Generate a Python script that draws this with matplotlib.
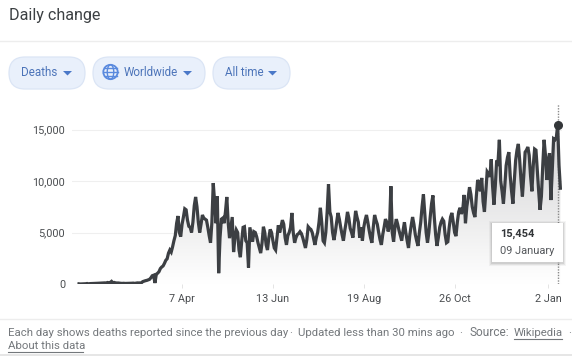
import numpy as np
import matplotlib
matplotlib.use("Agg")
import matplotlib.pyplot as plt
from matplotlib.colors import LinearSegmentedColormap
from matplotlib.patches import FancyBboxPatch, Circle, Ellipse, Polygon, Rectangle, PathPatch

plt.rcParams['font.family'] = ['Roboto', 'Liberation Sans', 'DejaVu Sans']

title = "Daily change"
chips = ["Deaths", "Worldwide", "All time"]
y_ticks = [0, 5000, 10000, 15000]
y_labels = ["0", "5,000", "10,000", "15,000"]
x_tick_days = [76, 143, 210, 277, 346]
x_labels = ["7 Apr", "13 Jun", "19 Aug", "26 Oct", "2 Jan"]
highlight_day = 353
tooltip_value = "15,454"
tooltip_date = "09 January"

deaths = [
    17, 1, 8, 16, 14, 26, 49, 2, 38, 42,
    46, 45, 64, 66, 73, 73, 86, 89, 97, 108,
    97, 146, 122, 143, 254, 121, 150, 108, 97, 99,
    78, 64, 60, 70, 55, 58, 60, 70, 58, 75,
    85, 60, 80, 105, 100, 110, 110, 230, 280, 320,
    350, 400, 450, 600, 800, 850, 100, 950, 1050, 1200,
    1500, 1650, 1750, 2000, 2300, 2450, 3000, 3300, 3100, 3600,
    4200, 4700, 5900, 6600, 5000, 4600, 5800, 6500, 7300, 7200,
    6200, 5600, 5500, 5000, 6000, 7600, 8450, 7500, 6000, 5000,
    5800, 6700, 6400, 6300, 6200, 5500, 4700, 4000, 6000, 9800,
    8000, 5900, 8500, 1050, 4500, 6300, 6400, 5900, 7000, 8450,
    6000, 4450, 5500, 6500, 3100, 4500, 5250, 5000, 3300, 2600,
    4200, 5500, 5560, 4200, 4000, 1600, 5500, 4800, 4100, 5080,
    5000, 4600, 4000, 3500, 3000, 4000, 5560, 5000, 3800, 3300,
    4500, 5300, 5000, 4200, 3500, 3300, 4500, 5700, 5000, 5600,
    6200, 5800, 4500, 3800, 4700, 5000, 5500, 6900, 5000, 4000,
    4500, 4800, 4900, 5080, 4900, 4500, 4000, 3500, 4300, 5560,
    5400, 5300, 5000, 4400, 3800, 4500, 5000, 6000, 7400, 6000,
    4200, 4000, 5000, 7000, 9700, 7000, 6500, 5000, 4270, 5000,
    6000, 6900, 6300, 5500, 4800, 4200, 5200, 6000, 7000, 6400,
    5400, 5000, 4500, 5800, 7100, 6500, 6000, 4500, 5500, 4200,
    5500, 6200, 6700, 6000, 5200, 4500, 4000, 5500, 6700, 6200,
    5800, 5000, 4300, 3800, 4800, 5500, 6300, 6000, 5100, 5600,
    9500, 5000, 4100, 5500, 6300, 5800, 5200, 4700, 4200, 5200,
    6000, 5000, 4200, 3500, 4800, 5700, 6500, 5800, 4800, 4200,
    3700, 5000, 6000, 7500, 8700, 6800, 5000, 4000, 5000, 6500,
    7800, 8600, 6500, 4800, 3700, 4500, 5500, 6000, 6300, 6100,
    4800, 4000, 4100, 5500, 6500, 6900, 6000, 5000, 4650, 6000,
    7000, 7400, 6800, 7200, 8650, 5900, 7500, 8400, 9400, 8700,
    7500, 6900, 6500, 8500, 10100, 9800, 9000, 10300, 8000, 7000,
    9000, 10900, 10700, 10400, 12100, 9500, 7700, 9500, 12000, 11800,
    14000, 10000, 9000, 7800, 9500, 11500, 12300, 12800, 10500, 9000,
    7800, 10000, 12000, 13000, 13600, 12000, 10000, 8500, 10500, 12800,
    13000, 13300, 12500, 10500, 9000, 11500, 13100, 13000, 11000, 9000,
    7200, 8500, 11500, 14000, 12500, 10100, 12000, 12700, 8150, 11000,
    14100, 14000, 14200, 15454, 11500, 9300,
]
days = np.arange(len(deaths))

W, H = 572, 356
fig = plt.figure(figsize=(W / 100, H / 100), dpi=100, facecolor="white")

# ---------- chart ----------
L, R, T, B = 72, 562, 104, 284
ax = fig.add_axes([L / W, 1 - B / H, (R - L) / W, (B - T) / H])
xlim = ((L - 79) / 1.356, (R - 79) / 1.356)
ylim = (0, (B - T) / 51.5 * 5000)
ax.set_xlim(*xlim)
ax.set_ylim(*ylim)
ax.set_facecolor("none")
for s in ax.spines.values():
    s.set_visible(False)

ax.set_yticks(y_ticks, y_labels)
ax.set_xticks(x_tick_days, x_labels)
ax.tick_params(axis="y", length=0, pad=5, labelsize=7.8, labelcolor="#4a4d50")
ax.tick_params(axis="x", length=3, width=0.7, color="#e4e4e4", pad=4.5,
               labelsize=7.8, labelcolor="#4a4d50")
ax.set_axisbelow(True)
ax.grid(axis="y", color="#efefef", lw=0.8)

cmap = LinearSegmentedColormap.from_list("fade", ["#ffffff", "#d2d2d3"])
grad = np.linspace(0, 1, 256).reshape(-1, 1)
im = ax.imshow(grad, origin="lower", aspect="auto", cmap=cmap, vmin=0, vmax=1,
               extent=(xlim[0], xlim[1], 0, 15000), zorder=1)
area = ax.fill_between(days, deaths, 0, color="none", lw=0)
clip = PathPatch(area.get_paths()[0], transform=ax.transData, fc="none", ec="none")
ax.add_patch(clip)
im.set_clip_path(clip)
ax.set_xlim(*xlim)
ax.set_ylim(*ylim)

ax.plot(days, deaths, color="#3c3f43", lw=2.3, solid_joinstyle="miter", zorder=3)
ax.axvline(highlight_day, color="#8a8a8a", lw=1.0, ls=(0, (1, 1)), zorder=2)
ax.plot([highlight_day], [deaths[highlight_day]], "o", color="#333639", ms=5.5, zorder=4)

# ---------- page furniture (pixel coordinates) ----------
ov = fig.add_axes([0, 0, 1, 1], zorder=5)
ov.set_xlim(0, W)
ov.set_ylim(H, 0)
ov.axis("off")
ov.patch.set_alpha(0)

ov.text(9, 15.5, title, fontsize=11.6, color="#3c4043", va="center", ha="left")
ov.plot([0, W], [40.5, 40.5], color="#ededed", lw=1)
ov.plot([0, W], [318.5, 318.5], color="#ededed", lw=1)
ov.add_patch(Rectangle((0, 354), W, 2, fc="#e6e6e6", ec="none"))

blue = "#4c74b9"
boxes = [(9, 85), (93, 205), (213, 290)]
text_x = [21, 124, 225]
arrow_x = [67.5, 187.5, 272.5]
for (x0, x1), name, tx, ax_x in zip(boxes, chips, text_x, arrow_x):
    ov.add_patch(FancyBboxPatch((x0 + 16, 57 + 16), x1 - x0 - 32, 0.01,
                                boxstyle="round,pad=16,rounding_size=16",
                                fc="#e9f0fb", ec="#dbe5f5", lw=0.9))
    ov.text(tx, 73, name, fontsize=8.4, color=blue, va="center", ha="left")
    ov.add_patch(Polygon([(ax_x - 4.5, 71), (ax_x + 4.5, 71), (ax_x, 75.5)],
                         fc="#4a78c8", ec="none"))

# globe icon
gc = "#5a8ade"
ov.add_patch(Circle((110.5, 72), 7.2, fc="none", ec=gc, lw=1.3))
ov.add_patch(Ellipse((110.5, 72), 6.5, 14.4, fc="none", ec=gc, lw=1.0))
ov.plot([103.5, 117.5], [72, 72], color=gc, lw=1.0)
ov.plot([104.5, 116.5], [68, 68], color=gc, lw=1.0)
ov.plot([104.5, 116.5], [76, 76], color=gc, lw=1.0)

# tooltip
for grow, a in [(3, 0.04), (2, 0.06), (1, 0.08)]:
    ov.add_patch(Rectangle((492 - grow, 223 - grow + 1), 71 + 2 * grow, 39 + 2 * grow,
                           fc="black", ec="none", alpha=a))
ov.add_patch(Rectangle((492, 223), 71, 39, fc="white", ec="none"))
ov.text(500, 233.5, tooltip_value, fontsize=7.9, fontweight="bold", color="#333639",
        va="center", ha="left")
ov.text(500, 251.5, tooltip_date, fontsize=7.9, color="#55585c", va="center", ha="left")

# footer
fc = "#74787c"
fs = 8.2
ov.text(8, 333, "Each day shows deaths reported since the previous day", fontsize=fs,
        color=fc, va="center", ha="left")
ov.text(291, 333, "·", fontsize=fs, color=fc, va="center", ha="center")
ov.text(298, 333, "Updated less than 30 mins ago", fontsize=fs, color=fc, va="center", ha="left")
ov.text(461, 333, "·", fontsize=fs, color=fc, va="center", ha="center")
ov.text(469, 333, "Source:", fontsize=fs + 0.4, color=fc, va="center", ha="left")
ov.text(514, 333, "Wikipedia", fontsize=fs, color=fc, va="center", ha="left")
ov.plot([514, 562], [338.5, 338.5], color=fc, lw=0.8)
ov.text(570, 333, "·", fontsize=fs, color=fc, va="center", ha="center", clip_on=True)
ov.text(8, 346, "About this data", fontsize=fs, color=fc, va="center", ha="left")
ov.plot([8, 83], [351.5, 351.5], color=fc, lw=0.8)

fig.savefig("out.png", dpi=100)
